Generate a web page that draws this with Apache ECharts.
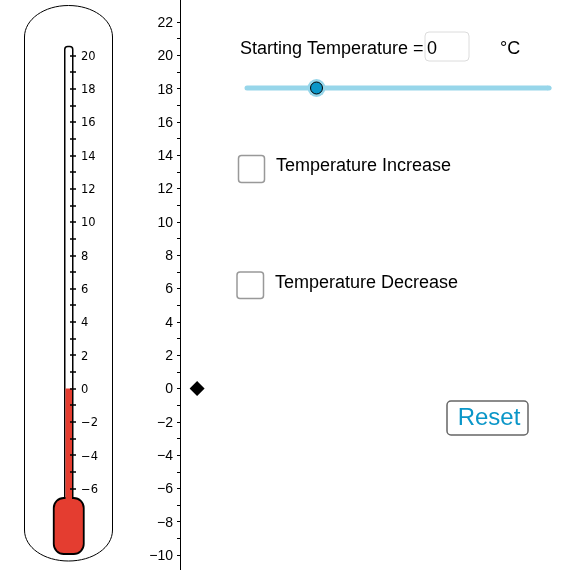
<!DOCTYPE html>
<html>
<head>
<meta charset="utf-8">
<style>html,body{margin:0;padding:0;background:#fff}#chart{width:587px;height:570px}</style>
<script src="https://cdn.jsdelivr.net/npm/echarts@6/dist/echarts.min.js"></script>
</head>
<body>
<div id="chart"></div>
<script>
// values
var temperature = [0];
var bulbTop = -6.7;
var diamondX = [0.042];
var yMin = -10.897, yMax = 23.325;
var numberLabels = [-10,-8,-6,-4,-2,0,2,4,6,8,10,12,14,16,18,20,22];
var numberTicks = [-10,-9,-8,-7,-6,-5,-4,-3,-2,-1,0,1,2,3,4,5,6,7,8,9,10,11,12,13,14,15,16,17,18,19,20,21,22];
var thermoLabels = [-6,-4,-2,0,2,4,6,8,10,12,14,16,18,20];
var thermoTicks = [-6,-5,-4,-3,-2,-1,0,1,2,3,4,5,6,7,8,9,10,11,12,13,14,15,16,17,18,19,20];

var chart = echarts.init(document.getElementById('chart'));
var red = '#e43d30', blue = '#0a96c8', sky = '#97d6ea';
var font = '"Liberation Sans", Arial, sans-serif';

function minus(v) { return String(v).replace('-', '\u2212'); }

function quarter(x1, y1, cx1, cy1, cx2, cy2, x2, y2) {
    return {type: 'bezierCurve', z: 1, silent: true,
        shape: {x1: x1, y1: y1, cpx1: cx1, cpy1: cy1, cpx2: cx2, cpy2: cy2, x2: x2, y2: y2},
        style: {fill: null, stroke: '#000', lineWidth: 1}};
}
function line(x1, y1, x2, y2, color, w) {
    return {type: 'line', z: 1, silent: true, shape: {x1: x1, y1: y1, x2: x2, y2: y2},
        style: {stroke: color, lineWidth: w, lineCap: 'round'}};
}
function box(x, y, w, h, r, color, lw, fill) {
    return {type: 'rect', z: 1, silent: true, shape: {x: x, y: y, width: w, height: h, r: r},
        style: {fill: fill || '#fff', stroke: color, lineWidth: lw}};
}
function label(x, y, s, size, color, align) {
    return {type: 'text', z: 1, silent: true, x: x, y: y,
        style: {text: s, fill: color || '#000', font: (size || 18) + 'px ' + font,
            textAlign: align || 'left', textVerticalAlign: 'middle'}};
}

var option = {
    animation: false,
    backgroundColor: '#fff',
    grid: [
        {left: 180, top: 0, width: 407, height: 570},
        {left: 65, top: 0, width: 7, height: 570}
    ],
    xAxis: [
        {gridIndex: 0, type: 'value', min: 0, max: 1, show: false},
        {gridIndex: 1, type: 'value', min: 0, max: 1, show: false}
    ],
    yAxis: [
        {
            gridIndex: 0, type: 'value', min: yMin, max: yMax, position: 'left', z: 3,
            splitLine: {show: false},
            axisLine: {show: true, onZero: false, lineStyle: {color: '#000', width: 1}},
            axisTick: {show: true, length: 3, customValues: numberTicks, lineStyle: {color: '#000'}},
            axisLabel: {customValues: numberLabels, margin: 7, color: '#000', fontSize: 14,
                fontFamily: font, formatter: minus, verticalAlign: 'top', lineHeight: 2}
        },
        {
            gridIndex: 1, type: 'value', min: yMin, max: yMax, position: 'left', offset: -5, z: 3,
            splitLine: {show: false},
            axisLine: {show: false},
            axisTick: {show: true, inside: true, length: 6, customValues: thermoTicks,
                lineStyle: {color: '#000', width: 1.5}},
            axisLabel: {customValues: thermoLabels, inside: true, margin: 11, color: '#000',
                fontSize: 11.5, fontFamily: '"DejaVu Sans", sans-serif', formatter: minus,
                verticalAlign: 'top', lineHeight: 3}
        }
    ],
    series: [
        {
            type: 'scatter', xAxisIndex: 0, yAxisIndex: 0, symbol: 'diamond', symbolSize: 15,
            itemStyle: {color: '#000', opacity: 1},
            data: [[diamondX[0], temperature[0]]]
        },
        {
            type: 'custom', xAxisIndex: 1, yAxisIndex: 1, z: 2, clip: false,
            renderItem: function (params, api) {
                var a = api.coord([0, api.value(1)]);
                var b = api.coord([1, bulbTop]);
                return {type: 'rect', shape: {x: a[0] + 0.5, y: a[1], width: b[0] - a[0] - 0.5, height: b[1] - a[1]},
                    style: {fill: red}};
            },
            encode: {x: 0, y: 1},
            data: [[0, temperature[0]]]
        }
    ],
    graphic: [
        // glass outline
        quarter(24.5, 37, 24.5, 19.3, 44.2, 5.5, 68.5, 5.5),
        quarter(68.5, 5.5, 92.8, 5.5, 112.5, 19.3, 112.5, 37),
        quarter(24.5, 530, 24.5, 547.7, 44.2, 561, 68.5, 561),
        quarter(68.5, 561, 92.8, 561, 112.5, 547.7, 112.5, 530),
        line(24.5, 37, 24.5, 530, '#000', 1),
        line(112.5, 37, 112.5, 530, '#000', 1),
        // tube and bulb
        box(64.75, 46.5, 8, 460, [3, 3, 0, 0], '#000', 1.5),
        box(53.75, 498, 30, 56, 10, '#000', 1.8, red),
        // controls
        label(240, 49.5, 'Starting Temperature ='),
        box(425, 32, 44, 29, 4, '#dcdcdc', 1),
        label(427, 49.5, '0'),
        label(500, 49.5, '\u00b0C'),
        line(247, 88, 549, 88, sky, 5),
        {type: 'polygon', z: 1, silent: true, shape: {points: [[547, 85.5], [552, 88], [547, 90.5]]}, style: {fill: sky}},
        {type: 'circle', z: 1, silent: true, shape: {cx: 316.5, cy: 88, r: 9}, style: {fill: sky}},
        {type: 'circle', z: 1, silent: true, shape: {cx: 316.5, cy: 88, r: 6}, style: {fill: blue, stroke: '#000', lineWidth: 1}},
        box(238.5, 155.5, 26, 27, 3, '#999', 1.5),
        label(276, 166, 'Temperature Increase'),
        box(237, 272, 26.5, 26.5, 3, '#999', 1.5),
        label(275, 283, 'Temperature Decrease'),
        box(447, 401, 81, 34, 4, '#666', 1.5),
        label(489, 418, 'Reset', 24, blue, 'center')
    ]
};
chart.setOption(option);
</script>
</body>
</html>
